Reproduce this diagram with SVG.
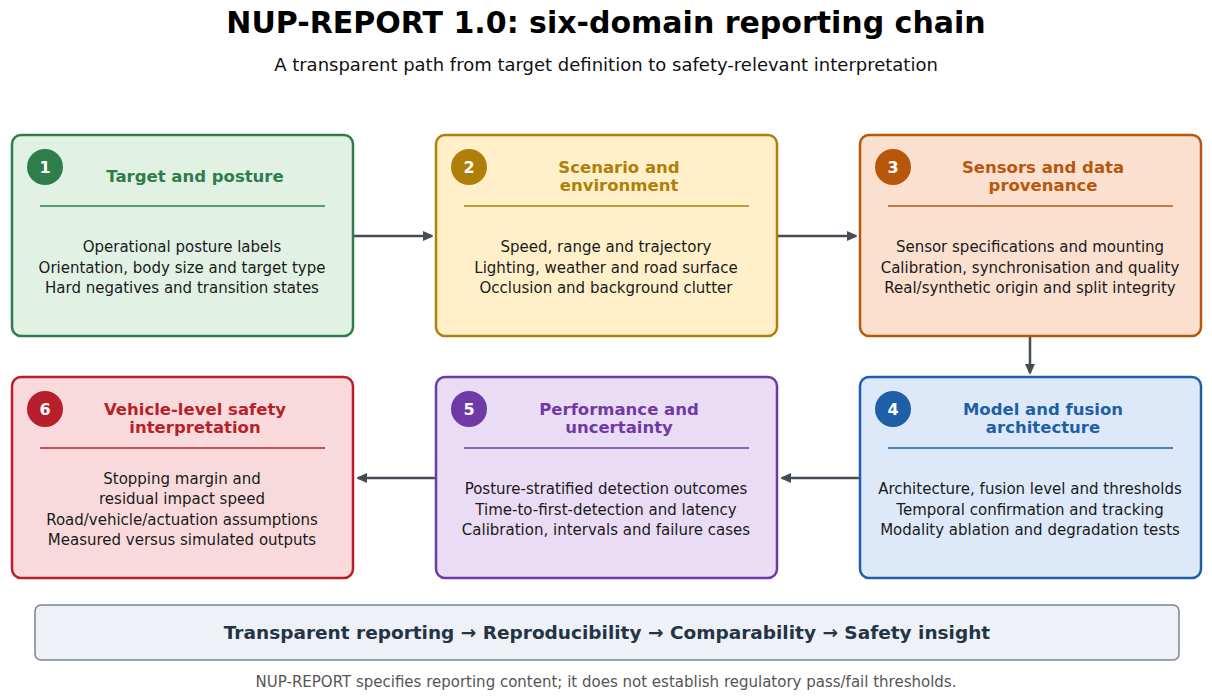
<svg xmlns="http://www.w3.org/2000/svg" width="1212" height="699" viewBox="0 0 1212 699">
<style>
text{font-family:"DejaVu Sans",sans-serif}
.box{stroke-width:2.5}
.t{font-weight:bold;font-size:16.5px;text-anchor:middle}
.b{font-size:15px;text-anchor:middle;fill:#1a1a1a}
.n{font-weight:bold;font-size:16px;fill:#fff;text-anchor:middle}
.c{stroke:#464c55;stroke-width:2.5;fill:none;marker-end:url(#a)}
</style>
<defs><marker id="a" markerWidth="10" markerHeight="10" refX="9" refY="5" orient="auto" markerUnits="userSpaceOnUse"><path d="M0,0L11,5L0,10z" fill="#464c55"/></marker></defs>
<rect width="1212" height="699" fill="#fff"/>
<text x="606" y="33" text-anchor="middle" font-weight="bold" font-size="30" fill="#000">NUP-REPORT 1.0: six-domain reporting chain</text>
<text x="606" y="71" text-anchor="middle" font-size="18" fill="#111">A transparent path from target definition to safety-relevant interpretation</text>
<g id="connectors">
<path class="c" d="M354,236H432"/>
<path class="c" d="M778,236H856"/>
<path class="c" d="M1030,337V373"/>
<path class="c" d="M859,478H782"/>
<path class="c" d="M435,478H358"/>
</g>
<g id="n1">
<rect class="box" x="12" y="135" width="341" height="201" rx="9" fill="#e1f2e5" stroke="#2e7d4a"/>
<circle cx="45" cy="167" r="18" fill="#2e7d4a"/><text class="n" x="45" y="173">1</text>
<text class="t" x="195" y="182" fill="#2e7d4a">Target and posture</text>
<line x1="40" y1="206" x2="325" y2="206" stroke="#2e7d4a" stroke-width="1.5"/>
<text class="b" x="182" y="252">Operational posture labels</text>
<text class="b" x="182" y="273">Orientation, body size and target type</text>
<text class="b" x="182" y="293">Hard negatives and transition states</text>
</g>
<g id="n2">
<rect class="box" x="436" y="135" width="341" height="201" rx="9" fill="#fff0c9" stroke="#b07f0a"/>
<circle cx="469" cy="167" r="18" fill="#b07f0a"/><text class="n" x="469" y="173">2</text>
<text class="t" x="619" y="173" fill="#b07f0a">Scenario and</text>
<text class="t" x="619" y="191" fill="#b07f0a">environment</text>
<line x1="464" y1="206" x2="749" y2="206" stroke="#b07f0a" stroke-width="1.5"/>
<text class="b" x="606" y="252">Speed, range and trajectory</text>
<text class="b" x="606" y="273">Lighting, weather and road surface</text>
<text class="b" x="606" y="293">Occlusion and background clutter</text>
</g>
<g id="n3">
<rect class="box" x="860" y="135" width="341" height="201" rx="9" fill="#fbe0d0" stroke="#b8570c"/>
<circle cx="893" cy="167" r="18" fill="#b8570c"/><text class="n" x="893" y="173">3</text>
<text class="t" x="1043" y="173" fill="#b8570c">Sensors and data</text>
<text class="t" x="1043" y="191" fill="#b8570c">provenance</text>
<line x1="888" y1="206" x2="1173" y2="206" stroke="#b8570c" stroke-width="1.5"/>
<text class="b" x="1030" y="252">Sensor specifications and mounting</text>
<text class="b" x="1030" y="273">Calibration, synchronisation and quality</text>
<text class="b" x="1030" y="293">Real/synthetic origin and split integrity</text>
</g>
<g id="n4">
<rect class="box" x="860" y="377" width="341" height="201" rx="9" fill="#dde9f8" stroke="#1f5fa8"/>
<circle cx="893" cy="409" r="18" fill="#1f5fa8"/><text class="n" x="893" y="415">4</text>
<text class="t" x="1043" y="415" fill="#1f5fa8">Model and fusion</text>
<text class="t" x="1043" y="433" fill="#1f5fa8">architecture</text>
<line x1="888" y1="448" x2="1173" y2="448" stroke="#1f5fa8" stroke-width="1.5"/>
<text class="b" x="1030" y="494">Architecture, fusion level and thresholds</text>
<text class="b" x="1030" y="515">Temporal confirmation and tracking</text>
<text class="b" x="1030" y="535">Modality ablation and degradation tests</text>
</g>
<g id="n5">
<rect class="box" x="436" y="377" width="341" height="201" rx="9" fill="#eadcf4" stroke="#6f3aa5"/>
<circle cx="469" cy="409" r="18" fill="#6f3aa5"/><text class="n" x="469" y="415">5</text>
<text class="t" x="619" y="415" fill="#6f3aa5">Performance and</text>
<text class="t" x="619" y="433" fill="#6f3aa5">uncertainty</text>
<line x1="464" y1="448" x2="749" y2="448" stroke="#6f3aa5" stroke-width="1.5"/>
<text class="b" x="606" y="494">Posture-stratified detection outcomes</text>
<text class="b" x="606" y="515">Time-to-first-detection and latency</text>
<text class="b" x="606" y="535">Calibration, intervals and failure cases</text>
</g>
<g id="n6">
<rect class="box" x="12" y="377" width="341" height="201" rx="9" fill="#f8dadc" stroke="#b81f2a"/>
<circle cx="45" cy="409" r="18" fill="#b81f2a"/><text class="n" x="45" y="415">6</text>
<text class="t" x="195" y="415" fill="#b81f2a">Vehicle-level safety</text>
<text class="t" x="195" y="433" fill="#b81f2a">interpretation</text>
<line x1="40" y1="448" x2="325" y2="448" stroke="#b81f2a" stroke-width="1.5"/>
<text class="b" x="182" y="484">Stopping margin and</text>
<text class="b" x="182" y="504">residual impact speed</text>
<text class="b" x="182" y="525">Road/vehicle/actuation assumptions</text>
<text class="b" x="182" y="545">Measured versus simulated outputs</text>
</g>
<g id="summary">
<rect x="35" y="605" width="1144" height="55" rx="6" fill="#eef1f5" stroke="#7a8595" stroke-width="1.5"/>
<text x="607" y="639" text-anchor="middle" font-weight="bold" font-size="18.5" fill="#243447">Transparent reporting  →  Reproducibility  →  Comparability  →  Safety insight</text>
</g>
<text x="606" y="687" text-anchor="middle" font-size="15" fill="#555">NUP-REPORT specifies reporting content; it does not establish regulatory pass/fail thresholds.</text>
</svg>
